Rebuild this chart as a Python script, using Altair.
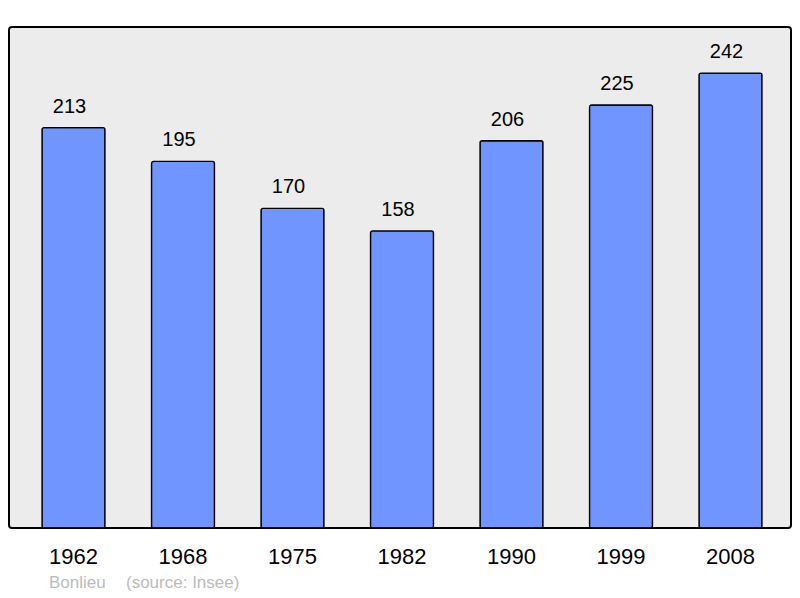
import altair as alt
import pandas as pd

years = ["1962", "1968", "1975", "1982", "1990", "1999", "2008"]
population = [213, 195, 170, 158, 206, 225, 242]

df = pd.DataFrame({"year": years, "pop": population})
note = pd.DataFrame({"t": ["Bonlieu", "(source: Insee)"], "px": [40, 117]})

FONT = "Liberation Sans"

x = alt.X("year:N", sort=years,
          scale=alt.Scale(range=[33, 753], paddingInner=0.4247, paddingOuter=0),
          axis=alt.Axis(title=None, labelAngle=0, labelFontSize=22, labelFont=FONT,
                        labelColor="#000000", ticks=False, domain=False,
                        labelPadding=18, grid=False))
y = alt.Y("pop:Q", scale=alt.Scale(domain=[0, 266.5], nice=False, zero=True),
          axis=None)

bars = alt.Chart(df).mark_bar(color="#7095ff", stroke="#000000", strokeWidth=1.3,
                              cornerRadius=2).encode(x=x, y=y)
labels = alt.Chart(df).mark_text(dy=-21, dx=-4, fontSize=20, font=FONT, color="#000000",
                                 baseline="middle").encode(x=x, y=y, text="pop:Q")
src = alt.Chart(note).mark_text(align="left", baseline="middle", fontSize=17,
                                font=FONT, color="#bbbbbb").encode(
    x=alt.X("px:Q", scale=None), y=alt.value(556), text="t:N")

chart = alt.layer(bars, labels, src).properties(
    width=782, height=501,
    autosize=alt.AutoSizeParams(type="none"),
    padding={"left": 1, "top": 19, "right": 1, "bottom": 66},
    background="#ffffff",
).configure_view(fill="#ececec", stroke="#000000", strokeWidth=2, cornerRadius=3)

chart.save("out.html", embed_options={"renderer": "svg", "actions": False})
